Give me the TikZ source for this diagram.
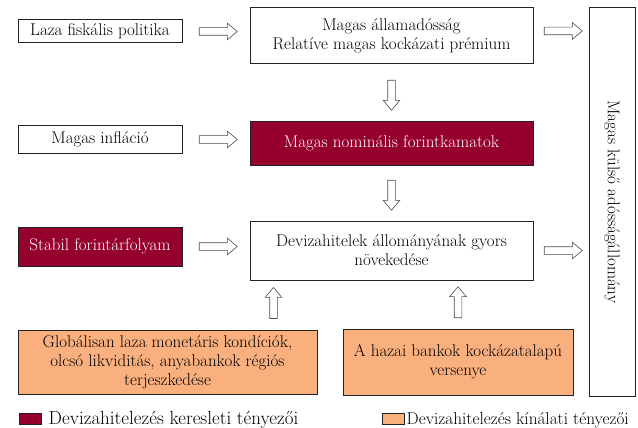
\documentclass[tikz,border=0pt]{standalone}
\usetikzlibrary{positioning,shapes.arrows,calc}
\definecolor{bordo}{HTML}{95002D}
\definecolor{narancs}{HTML}{F9B07E}
\definecolor{keret}{HTML}{222222}

\begin{document}
\begin{tikzpicture}[
  x=1pt, y=1pt,
  font=\fontsize{17}{19}\selectfont,
  doboz/.style={draw=keret, line width=1pt, align=center, inner sep=2pt},
  kereslet/.style={doboz, fill=bordo, text=white},
  kinalat/.style={doboz, fill=narancs},
  nyil/.style={single arrow, draw=black!70, fill=white, line width=0.6pt,
               minimum width=0pt, inner sep=3.5pt,
               single arrow head extend=4.5pt, single arrow tip angle=80},
  tolas/.style 2 args={to path={node[nyil, shape border rotate=#1, minimum height=#2]
                at ($(\tikztostart)!0.5!(\tikztotarget)$) {}}},
  jelszoveg/.style={anchor=base west, inner sep=0pt, font=\fontsize{19}{21}\selectfont}
]
  \useasboundingbox (0,0) rectangle (638,-428);
  % kozepso oszlop
  \node[doboz, minimum width=283pt, minimum height=56pt] (allam) at (391.5,-36) {Magas államadósság\\Relatíve magas kockázati prémium};
  \node[kereslet, minimum width=283pt, minimum height=43pt, below=57pt of allam] (kamat) {Magas nominális forintkamatok};
  \node[doboz, minimum width=283pt, minimum height=59pt, below=55pt of kamat] (hitel) {Devizahitelek állományának gyors\\növekedése};
  % bal oszlop
  \node[doboz, minimum width=164pt, minimum height=23pt] (fiskal) at (100,-31.5) {Laza fiskális politika};
  \node[doboz, minimum width=164pt, minimum height=27pt] (inflacio) at (100,-139.5) {Magas infláció};
  \node[kereslet, minimum width=164pt, minimum height=39pt] (arfolyam) at (100,-246.5) {Stabil forintárfolyam};
  % also sor
  \node[kinalat, minimum width=299pt, minimum height=64pt] (global) at (167.5,-362) {Globálisan laza monetáris kondíciók,\\olcsó likviditás, anyabankok régiós\\terjeszkedése};
  \node[kinalat, minimum width=230pt, minimum height=66pt] (verseny) at (458,-362) {A hazai bankok kockázatalapú\\versenye};
  % jobb oldal
  \node[doboz, minimum width=46pt, minimum height=388pt] (kulso) at (612,-202) {\rotatebox{-90}{Magas külső adósságállomány}};
  \coordinate (balfel) at (273.5,-330);

  \path (fiskal.east) to[tolas={0}{38pt}] (fiskal.east -| allam.west);
  \path (inflacio.east) to[tolas={0}{38pt}] (inflacio.east -| kamat.west);
  \path (arfolyam.east) to[tolas={0}{38pt}] (arfolyam.east -| hitel.west);
  \path ([yshift=5pt]allam.east) to[tolas={0}{38pt}] ([yshift=5pt]allam.east -| kulso.west);
  \path (hitel.east) to[tolas={0}{38pt}] (hitel.east -| kulso.west);
  \path (allam.south) to[tolas={270}{30pt}] (kamat.north);
  \path (kamat.south) to[tolas={270}{30pt}] (hitel.north);
  \path (balfel) to[tolas={90}{31pt}] (balfel |- hitel.south);
  \path (verseny.north) to[tolas={90}{31pt}] (verseny.north |- hitel.south);

  % jelmagyarazat
  \node[kereslet, minimum width=22pt, minimum height=11pt, inner sep=0pt] (jel1) at (30,-418.5) {};
  \node[jelszoveg] (jel1szoveg) at ([xshift=7pt]jel1.south east) {Devizahitelezés keresleti tényezői};
  \node[kinalat, minimum width=22pt, minimum height=11pt, inner sep=0pt] (jel2) at (393,-418.5) {};
  \node[jelszoveg, font=\fontsize{17.2}{20}\selectfont] (jel2szoveg) at ([xshift=2pt]jel2.south east) {Devizahitelezés kínálati tényezői};
\end{tikzpicture}
\end{document}
